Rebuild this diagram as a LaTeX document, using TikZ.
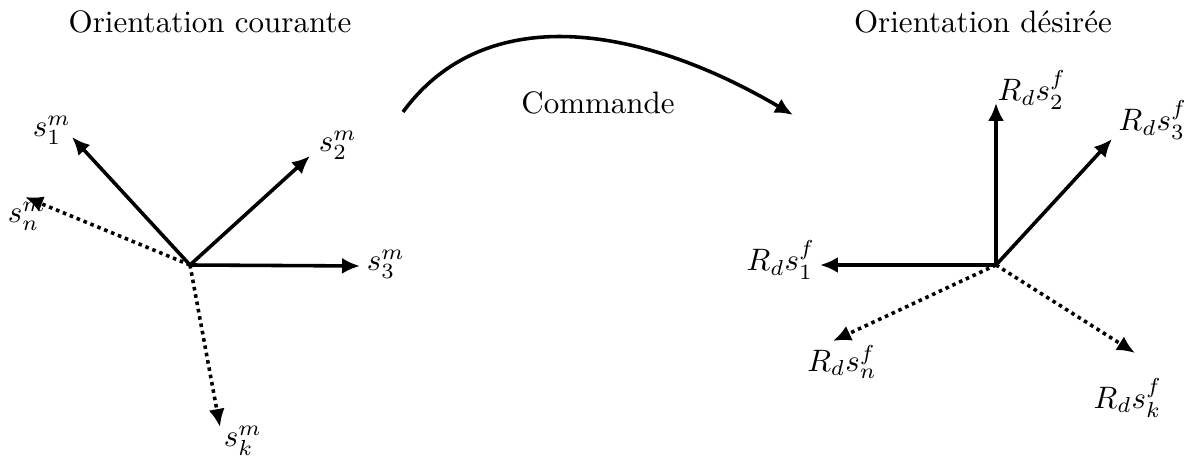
\documentclass[tikz,border=0pt]{standalone}
\usetikzlibrary{arrows.meta}
\begin{document}
\begin{tikzpicture}[x=0.3226pt,y=-0.3226pt,
  vec/.style={line width=1.15pt,-{Latex[length=5.8pt,width=5.2pt]}},
  dvec/.style={vec,dash pattern=on 1.15pt off 1.25pt},
  lbl/.style={inner sep=0pt}]
\useasboundingbox (0,0) rectangle (1190,462);
% titles
\node[lbl] (t1) at (210,22) {Orientation courante};
\node[lbl] (t2) at (983,22) {Orientation d\'esir\'ee};
\node[lbl] (cmd) at (598,103) {Commande};
% command arc
\coordinate (a0) at (403,112);
\coordinate (a1) at (793,115);
\draw[vec] (a0) .. controls (485,0) and (640,25) .. (a1);
% left frame
\coordinate (o1) at (190,265);
\coordinate (m1) at (72,137);
\coordinate (m2) at (310,156);
\coordinate (m3) at (360,266);
\coordinate (mn) at (25,197);
\coordinate (mk) at (220,427);
\draw[vec] (o1) -- (m1);
\draw[vec] (o1) -- (m2);
\draw[vec] (o1) -- (m3);
\draw[dvec] (o1) -- (mn);
\draw[dvec] (o1) -- (mk);
\node[lbl] (lm1) at (52,130) {$s_1^m$};
\node[lbl] (lm2) at (338,145) {$s_2^m$};
\node[lbl] (lm3) at (386,264) {$s_3^m$};
\node[lbl] (lmn) at (27,216) {$s_n^m$};
\node[lbl] (lmk) at (243,441) {$s_k^m$};
% right frame
\coordinate (o2) at (996,265);
\coordinate (f1) at (820,265);
\coordinate (f2) at (996,103);
\coordinate (f3) at (1112,139);
\coordinate (fn) at (833,341);
\coordinate (fk) at (1135,353);
\draw[vec] (o2) -- (f1);
\draw[vec] (o2) -- (f2);
\draw[vec] (o2) -- (f3);
\draw[dvec] (o2) -- (fn);
\draw[dvec] (o2) -- (fk);
\node[lbl] (lf1) at (781,260) {$R_d s_1^f$};
\node[lbl] (lf2) at (1032,90) {$R_d s_2^f$};
\node[lbl] (lf3) at (1153,120) {$R_d s_3^f$};
\node[lbl] (lfn) at (842,362) {$R_d s_n^f$};
\node[lbl] (lfk) at (1128,398) {$R_d s_k^f$};
\end{tikzpicture}
\end{document}
